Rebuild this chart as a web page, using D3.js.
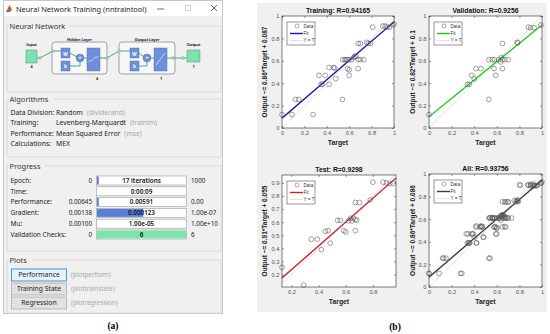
<!DOCTYPE html>
<html>
<head>
<meta charset="utf-8">
<script src="https://cdn.jsdelivr.net/npm/d3@7"></script>
<style>
  html, body { margin: 0; padding: 0; background: #fff; }
  svg { display: block; }
  .ui { font-family: "Noto Sans", "Open Sans", sans-serif; }
  .ml { font-family: "Liberation Sans", Arial, sans-serif; }
</style>
</head>
<body>
<script>
// ---- data ----
var algoLabels = ["Data Division:", "Training:", "Performance:", "Calculations:"];
var algoValues = ["Random", "Levenberg-Marquardt", "Mean Squared Error", "MEX"];
var algoFuncs = ["(dividerand)", "(trainlm)", "(mse)", ""];

var progLabels = ["Epoch:", "Time:", "Performance:", "Gradient:", "Mu:", "Validation Checks:"];
var progStart = ["0", "", "0.00645", "0.00138", "0.00100", "0"];
var progCurrent = ["17 iterations", "0:00:09", "0.00591", "0.000123", "1.00e-05", "6"];
var progEnd = ["1000", "", "0.00", "1.00e-07", "1.00e+10", "6"];
var progFrac = [0.02, 0, 0.02, 0.52, 0, 1];

var plotButtons = ["Performance", "Training State", "Regression"];
var plotFuncs = ["(plotperform)", "(plottrainstate)", "(plotregression)"];

// [target, output]
var trainData = [[0.00,0.12],[0.09,0.12],[0.12,0.255],[0.15,0.255],[0.277,0.12],[0.33,0.47],[0.35,0.39],
  [0.36,0.39],[0.386,0.47],[0.42,0.39],[0.42,0.54],[0.46,0.54],[0.47,0.535],[0.48,0.44],[0.54,0.255],
  [0.54,0.61],[0.56,0.61],[0.57,0.61],[0.585,0.61],[0.6,0.61],[0.62,0.61],[0.585,0.53],[0.6,0.52],
  [0.6,0.47],[0.64,0.63],[0.65,0.64],[0.66,0.64],[0.68,0.53],[0.68,0.61],[0.7,0.61],[0.73,0.61],
  [0.68,0.755],[0.7,0.755],[0.755,0.765],[0.77,0.755],[0.79,0.755],[0.81,0.90],[0.9,0.91],[0.92,0.91],
  [0.94,0.90],[0.96,0.90],[0.99,0.92],[1.0,0.93]];
var valData = [[0,0.12],[0.34,0.39],[0.355,0.39],[0.377,0.47],[0.40,0.44],[0.415,0.53],[0.46,0.53],
  [0.53,0.255],[0.53,0.61],[0.56,0.61],[0.58,0.61],[0.575,0.53],[0.59,0.47],[0.617,0.61],[0.635,0.59],
  [0.64,0.63],[0.65,0.61],[0.67,0.61],[0.70,0.61],[0.65,0.755],[0.65,0.53],[0.78,0.765],[0.785,0.76],
  [0.88,0.90],[0.9,0.895],[0.93,0.895],[0.99,0.92]];
var testData = [[0.13,0.255],[0.29,0.12],[0.346,0.47],[0.39,0.47],[0.42,0.39],[0.45,0.53],[0.47,0.535],
  [0.485,0.44],[0.54,0.614],[0.56,0.614],[0.585,0.535],[0.6,0.525],[0.62,0.61],[0.635,0.63],[0.645,0.61],
  [0.655,0.63],[0.67,0.62],[0.68,0.615],[0.67,0.535],[0.67,0.75],[0.70,0.75],[0.78,0.77],[0.80,0.905],
  [0.875,0.905],[0.9,0.9],[0.925,0.895],[0.95,0.895]];
var allData = trainData.concat(valData, testData);

var plotTitles = ["Training: R=0.94165", "Validation: R=0.9256", "Test: R=0.9298", "All: R=0.93756"];
var fitSlope = [0.86, 0.82, 0.91, 0.86];
var fitIntercept = [0.087, 0.1, 0.055, 0.086];
var yLabels = ["Output ~= 0.86*Target + 0.087", "Output ~= 0.82*Target + 0.1",
  "Output ~= 0.91*Target + 0.055", "Output ~= 0.86*Target + 0.086"];
var ticksFull = [0, 0.2, 0.4, 0.6, 0.8, 1];
var testXTicks = [0.2, 0.4, 0.6, 0.8];
var testYTicks = [0.2, 0.3, 0.4, 0.5, 0.6, 0.7, 0.8, 0.9];

var svg = d3.select("body").append("svg").attr("width", 550).attr("height", 334);

// ================= (a) nntraintool window =================
var win = svg.append("g").attr("class", "ui");
win.append("rect").attr("x", 3.5).attr("y", 0.5).attr("width", 219).attr("height", 313)
  .attr("fill", "#f0f0f0").attr("stroke", "#c8c8c8");
win.append("rect").attr("x", 4).attr("y", 1).attr("width", 218).attr("height", 15).attr("fill", "#fff");
// matlab icon
win.append("path").attr("d", "M6,12 L9.5,5 L12,10 L10,12 Z").attr("fill", "#d9541e");
win.append("path").attr("d", "M6,12 L8.5,9 L10,12 Z").attr("fill", "#3a7bbf");
win.append("text").attr("x", 16).attr("y", 11.5).attr("font-size", 7.4).attr("fill", "#222")
  .text("Neural Network Training (nntraintool)");
win.append("line").attr("x1", 157).attr("x2", 164).attr("y1", 9).attr("y2", 9).attr("stroke", "#333").attr("stroke-width", 0.7);
win.append("rect").attr("x", 185.5).attr("y", 5.5).attr("width", 5).attr("height", 5).attr("fill", "none").attr("stroke", "#bbb").attr("stroke-width", 0.7);
win.append("path").attr("d", "M211,5 L217,11 M217,5 L211,11").attr("stroke", "#333").attr("stroke-width", 0.8);

function groupBox(title, y0, y1) {
  var tw = title.length * 4 + 4;
  win.append("path")
    .attr("d", "M" + (9 + tw) + "," + y0 + " H221 V" + y1 + " H7 V" + y0 + " H9")
    .attr("fill", "none").attr("stroke", "#d6d6d6").attr("stroke-width", 0.8);
  win.append("text").attr("x", 9.5).attr("y", y0 + 2.5).attr("font-size", 7.5).attr("fill", "#333").text(title);
}
groupBox("Neural Network", 26, 92);
groupBox("Algorithms", 99, 157);
groupBox("Progress", 166, 251);
groupBox("Plots", 260, 313);

// network diagram
var green = "#7de3ad", blue = "#6e8fdd", wire = "#3fb37f";
var net = win.append("g");
function box(x, y, w, h, fill) {
  net.append("rect").attr("x", x).attr("y", y).attr("width", w).attr("height", h)
    .attr("fill", fill).attr("stroke", "#4a6a9a").attr("stroke-width", 0.4);
}
function node(x, y) {
  net.append("circle").attr("cx", x).attr("cy", y).attr("r", 1.3).attr("fill", "#d9f5e6").attr("stroke", "#2f8f63").attr("stroke-width", 0.5);
}
function wireP(d) { net.append("path").attr("d", d).attr("fill", "none").attr("stroke", wire).attr("stroke-width", 1); }
function small(x, y, t, anchor) {
  net.append("text").attr("x", x).attr("y", y).attr("font-size", 3.8).attr("font-weight", "bold")
    .attr("text-anchor", anchor || "middle").attr("fill", "#222").text(t);
}
// layer frames
[[52, 107, "Hidden Layer", 97, "4"], [119, 175, "Output Layer", 161, "1"]].forEach(function (L) {
  net.append("rect").attr("x", L[0]).attr("y", 42).attr("width", L[1] - L[0]).attr("height", 32).attr("rx", 3)
    .attr("fill", "#f7f7f7").attr("stroke", "#8a8a8a").attr("stroke-width", 0.8);
  small((L[0] + L[1]) / 2, 40.5, L[2]);
  small(L[3], 79.5, L[4]);
});
// wires
wireP("M37,58 H40 L53,51 H61");
wireP("M70,53 L77,57");
wireP("M70,66 H80 V62");
wireP("M84,58 H87");
wireP("M100,58 H107 L119,51 H130");
wireP("M139,53 L144,57");
wireP("M139,66 H147 V62");
wireP("M151,58 H154");
wireP("M167,58 H187");
box(26, 50, 11, 13, green); small(31.5, 46, "Input"); small(31.5, 68, "4");
box(187, 50, 13, 12, green); small(193.5, 46, "Output"); small(193.5, 68, "1");
box(61, 48, 9, 10, blue); net.append("text").attr("x", 65.5).attr("y", 55.5).attr("font-size", 4.5).attr("font-weight", "bold").attr("text-anchor", "middle").attr("fill", "#fff").text("W");
box(61, 61, 9, 10, blue); net.append("text").attr("x", 65.5).attr("y", 68).attr("font-size", 4.5).attr("font-weight", "bold").attr("text-anchor", "middle").attr("fill", "#fff").text("b");
box(130, 48, 9, 10, blue); net.append("text").attr("x", 134.5).attr("y", 55.5).attr("font-size", 4.5).attr("font-weight", "bold").attr("text-anchor", "middle").attr("fill", "#fff").text("W");
box(130, 61, 9, 10, blue); net.append("text").attr("x", 134.5).attr("y", 68).attr("font-size", 4.5).attr("font-weight", "bold").attr("text-anchor", "middle").attr("fill", "#fff").text("b");
[80, 147].forEach(function (cx) {
  net.append("circle").attr("cx", cx).attr("cy", 58).attr("r", 4).attr("fill", blue).attr("stroke", "#4a6a9a").attr("stroke-width", 0.4);
  net.append("text").attr("x", cx).attr("y", 60.3).attr("font-size", 6).attr("font-weight", "bold").attr("text-anchor", "middle").attr("fill", "#fff").text("+");
});
box(87, 48, 13, 23, blue);
net.append("path").attr("d", "M88.5,61 H91.5 L95.5,57 H98.5").attr("fill", "none").attr("stroke", "#fff").attr("stroke-width", 0.6);
box(154, 48, 13, 23, blue);
net.append("path").attr("d", "M156,65 L165,53").attr("fill", "none").attr("stroke", "#fff").attr("stroke-width", 0.6);
node(40, 58); node(53, 51); node(107, 58); node(119, 51); node(173, 58); node(183, 58);

// algorithms
algoLabels.forEach(function (l, i) {
  var y = 114.5 + i * 10.6;
  win.append("text").attr("x", 10.5).attr("y", y).attr("font-size", 6.8).attr("fill", "#222").text(l);
  var t = win.append("text").attr("x", 56).attr("y", y).attr("font-size", 6.8).attr("fill", "#222").text(algoValues[i]);
  if (algoFuncs[i]) t.append("tspan").attr("fill", "#a8a8a8").attr("dx", 4).text(algoFuncs[i]);
});

// progress
progLabels.forEach(function (l, i) {
  var cy = 180.5 + i * 10.8;
  win.append("text").attr("x", 10.5).attr("y", cy + 2.3).attr("font-size", 6.5).attr("fill", "#222").text(l);
  win.append("text").attr("x", 92).attr("y", cy + 2.3).attr("font-size", 6.3).attr("text-anchor", "end").attr("fill", "#222").text(progStart[i]);
  win.append("text").attr("x", 191).attr("y", cy + 2.3).attr("font-size", 6.3).attr("fill", "#222").text(progEnd[i]);
  win.append("rect").attr("x", 96.5).attr("y", cy - 4.5).attr("width", 90).attr("height", 9)
    .attr("fill", "#fff").attr("stroke", "#9a9a9a").attr("stroke-width", 0.6);
  if (progFrac[i] > 0) {
    win.append("rect").attr("x", 97).attr("y", cy - 4).attr("width", 89 * progFrac[i]).attr("height", 8)
      .attr("fill", i === 5 ? green : "#5b7fd9");
  }
  win.append("text").attr("x", 141.5).attr("y", cy + 2.3).attr("font-size", 6.3).attr("font-weight", 600)
    .attr("text-anchor", "middle").attr("fill", "#111").text(progCurrent[i]);
});

// plot buttons
plotButtons.forEach(function (b, i) {
  var y = 269 + i * 14;
  win.append("rect").attr("x", 11.5).attr("y", y).attr("width", 55).attr("height", 12)
    .attr("fill", i === 0 ? "#e5f1fb" : "#e1e1e1").attr("stroke", i === 0 ? "#2f7bd0" : "#adadad").attr("stroke-width", 0.8);
  win.append("text").attr("x", 39).attr("y", y + 8.4).attr("font-size", 6.8).attr("text-anchor", "middle").attr("fill", "#222").text(b);
  win.append("text").attr("x", 71).attr("y", y + 8.4).attr("font-size", 6.3).attr("fill", "#a8a8a8").text(plotFuncs[i]);
});

svg.append("text").attr("x", 113).attr("y", 329).attr("font-family", "Liberation Serif, Times New Roman, serif")
  .attr("font-size", 9.5).attr("font-weight", "bold").attr("text-anchor", "middle").text("(a)");
svg.append("text").attr("x", 395).attr("y", 330).attr("font-family", "Liberation Serif, Times New Roman, serif")
  .attr("font-size", 9.5).attr("font-weight", "bold").attr("text-anchor", "middle").text("(b)");

// ================= (b) regression plots =================
svg.append("rect").attr("x", 257).attr("y", 3).attr("width", 290).attr("height", 309).attr("fill", "#f0f0f0");

var panels = [
  { data: trainData, color: "#1414b4", box: [282, 394, 16, 128], xd: [0, 1], yd: [0, 1], xt: ticksFull, yt: ticksFull, labX: 265 },
  { data: valData, color: "#10d010", box: [429, 542, 16, 128], xd: [0, 1], yd: [0, 1], xt: ticksFull, yt: ticksFull, labX: 413 },
  { data: testData, color: "#d42020", box: [282, 396, 175, 287], xd: [0.13, 0.97], yd: [0.105, 0.96], xt: testXTicks, yt: testYTicks, labX: 265 },
  { data: allData, color: "#3c3c3c", box: [429, 542, 174, 287], xd: [0, 1], yd: [0, 1], xt: ticksFull, yt: ticksFull, labX: 413 }
];

var fmt = function (d) { return String(+d.toFixed(1)); };

panels.forEach(function (p, i) {
  var b = p.box;
  var x = d3.scaleLinear().domain(p.xd).range([b[0], b[1]]);
  var y = d3.scaleLinear().domain(p.yd).range([b[3], b[2]]);
  var g = svg.append("g").attr("class", "ml");
  var clipId = "clip" + i;
  g.append("clipPath").attr("id", clipId).append("rect")
    .attr("x", b[0]).attr("y", b[2]).attr("width", b[1] - b[0]).attr("height", b[3] - b[2]);
  g.append("rect").attr("x", b[0]).attr("y", b[2]).attr("width", b[1] - b[0]).attr("height", b[3] - b[2]).attr("fill", "#fff");

  var inner = g.append("g").attr("clip-path", "url(#" + clipId + ")");
  // Y = T
  inner.append("line").attr("x1", x(-1)).attr("y1", y(-1)).attr("x2", x(2)).attr("y2", y(2))
    .attr("stroke", "#a0a0a0").attr("stroke-width", 0.5).attr("stroke-dasharray", "1,0.6");
  // fit
  inner.append("line")
    .attr("x1", x(p.xd[0])).attr("y1", y(fitSlope[i] * p.xd[0] + fitIntercept[i]))
    .attr("x2", x(p.xd[1])).attr("y2", y(fitSlope[i] * p.xd[1] + fitIntercept[i]))
    .attr("stroke", p.color).attr("stroke-width", 1.4);
  // data
  g.append("g").selectAll("circle").data(p.data).enter().append("circle")
    .attr("cx", function (d) { return x(d[0]); })
    .attr("cy", function (d) { return y(d[1]); })
    .attr("r", 2.4).attr("fill", "none").attr("stroke", "#555").attr("stroke-width", 0.55);

  // axes, ticks inside
  var ax = g.append("g").attr("transform", "translate(0," + b[3] + ")")
    .call(d3.axisBottom(x).tickValues(p.xt).tickSize(-2).tickPadding(3).tickFormat(fmt));
  var ay = g.append("g").attr("transform", "translate(" + b[0] + ",0)")
    .call(d3.axisLeft(y).tickValues(p.yt).tickSize(-2).tickPadding(2.5).tickFormat(fmt));
  var at = g.append("g").attr("transform", "translate(0," + b[2] + ")")
    .call(d3.axisTop(x).tickValues(p.xt).tickSize(-2).tickFormat(""));
  var ar = g.append("g").attr("transform", "translate(" + b[1] + ",0)")
    .call(d3.axisRight(y).tickValues(p.yt).tickSize(-2).tickFormat(""));
  [ax, ay, at, ar].forEach(function (a) {
    a.select(".domain").remove();
    a.selectAll(".tick line").attr("stroke", "#333").attr("stroke-width", 0.5);
    a.selectAll("text").attr("font-size", 5.8).attr("fill", "#555").attr("font-family", "Liberation Sans, Arial, sans-serif");
  });
  g.append("rect").attr("x", b[0]).attr("y", b[2]).attr("width", b[1] - b[0]).attr("height", b[3] - b[2])
    .attr("fill", "none").attr("stroke", "#262626").attr("stroke-width", 0.6);

  // title / labels
  g.append("text").attr("x", (b[0] + b[1]) / 2).attr("y", b[2] - 3).attr("text-anchor", "middle")
    .attr("font-size", 6.8).attr("font-weight", "bold").attr("fill", "#111").text(plotTitles[i]);
  g.append("text").attr("x", (b[0] + b[1]) / 2).attr("y", b[3] + 16.5).attr("text-anchor", "middle")
    .attr("font-size", 6.8).attr("font-weight", "bold").attr("fill", "#222").text("Target");
  g.append("text").attr("transform", "translate(" + (p.labX + 2.3) + "," + ((b[2] + b[3]) / 2) + ") rotate(-90)")
    .attr("text-anchor", "middle").attr("font-size", 6.5).attr("font-weight", "bold").attr("fill", "#222").text(yLabels[i]);

  // legend
  var lx = b[0] + 5, ly = b[2] + 6;
  var lg = g.append("g");
  lg.append("rect").attr("x", lx).attr("y", ly).attr("width", 28).attr("height", 23)
    .attr("fill", "#fff").attr("stroke", "#333").attr("stroke-width", 0.5);
  lg.append("circle").attr("cx", lx + 10).attr("cy", ly + 4).attr("r", 2).attr("fill", "none").attr("stroke", "#555").attr("stroke-width", 0.5);
  lg.append("line").attr("x1", lx + 3).attr("x2", lx + 16).attr("y1", ly + 11.5).attr("y2", ly + 11.5).attr("stroke", p.color).attr("stroke-width", 1.4);
  lg.append("line").attr("x1", lx + 3).attr("x2", lx + 16).attr("y1", ly + 18.5).attr("y2", ly + 18.5)
    .attr("stroke", "#a0a0a0").attr("stroke-width", 0.5).attr("stroke-dasharray", "1,0.6");
  ["Data", "Fit", "Y = T"].forEach(function (t, k) {
    lg.append("text").attr("x", lx + 16.5).attr("y", ly + 5.8 + k * 7.2).attr("font-size", 4.6).attr("fill", "#333").text(t);
  });
});
</script>
</body>
</html>
